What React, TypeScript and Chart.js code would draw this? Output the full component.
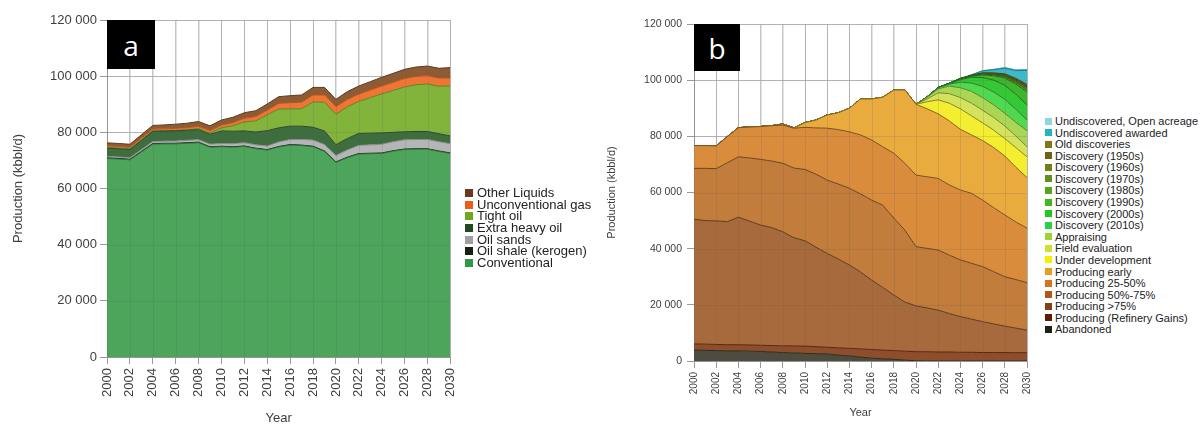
import React, { useEffect, useRef } from 'react';
import { Chart, registerables } from 'chart.js';

Chart.register(...registerables);

// ---------- shared ----------
const years = [2000, 2001, 2002, 2003, 2004, 2005, 2006, 2007, 2008, 2009, 2010, 2011, 2012, 2013, 2014, 2015, 2016, 2017, 2018, 2019, 2020, 2021, 2022, 2023, 2024, 2025, 2026, 2027, 2028, 2029, 2030];
const yTickValues = [0, 20000, 40000, 60000, 80000, 100000, 120000];

// ---------- panel a (bottom -> top) ----------
const conventional = [70700, 70500, 70200, 73000, 75800, 75900, 75900, 76100, 76300, 74700, 74900, 74700, 75000, 74200, 73700, 74800, 75500, 75300, 74900, 73200, 69300, 71000, 72300, 72400, 72500, 73300, 73900, 74000, 74000, 73200, 72500];
const oilShale = [200, 200, 200, 200, 200, 200, 200, 200, 200, 150, 150, 150, 150, 150, 150, 150, 150, 150, 150, 150, 150, 150, 150, 150, 150, 150, 150, 150, 150, 150, 150];
const oilSands = [500, 520, 560, 620, 700, 750, 800, 850, 900, 950, 1000, 1100, 1150, 1200, 1300, 1600, 1800, 2000, 2200, 2300, 2300, 2600, 2900, 3000, 3100, 3200, 3300, 3300, 3300, 3300, 3300];
const extraHeavy = [2950, 2930, 2890, 3230, 3650, 3600, 3650, 3600, 3550, 3500, 4450, 4450, 4200, 4550, 5450, 5050, 4750, 4750, 4550, 4850, 3850, 4050, 4250, 4150, 4050, 3350, 2850, 2850, 2850, 2850, 2750];
const tightOil = [300, 300, 300, 300, 200, 150, 150, 150, 400, 450, 1100, 1950, 3200, 4000, 5600, 6700, 6150, 6200, 9000, 10200, 10850, 11300, 11400, 12650, 13900, 14900, 15950, 16650, 16900, 16900, 17850];
const unconvGas = [500, 500, 500, 550, 600, 650, 700, 750, 800, 850, 1000, 1100, 1300, 1500, 1700, 2000, 2200, 2300, 2500, 2600, 2700, 2600, 2600, 2700, 2800, 2900, 3000, 3000, 3000, 2900, 2800];
const otherLiquids = [1100, 1100, 1100, 1200, 1300, 1400, 1500, 1600, 1700, 1700, 1800, 1900, 2000, 2100, 2200, 2400, 2500, 2600, 2700, 2700, 2600, 2800, 2900, 3000, 3100, 3200, 3300, 3300, 3400, 3500, 3700];

// ---------- panel b (bottom -> top) ----------
const abandoned = [3900, 3800, 3700, 3600, 3600, 3500, 3400, 3200, 3000, 2900, 2700, 2600, 2500, 2100, 1800, 1400, 1000, 800, 600, 300, 100, 50, 0, 0, 0, 0, 0, 0, 0, 0, 0];
const refineryGains = [2200, 2200, 2200, 2200, 2200, 2200, 2200, 2300, 2400, 2500, 2600, 2500, 2400, 2600, 2700, 2900, 3100, 3100, 3100, 3200, 3200, 3250, 3200, 3200, 3100, 3100, 3000, 3000, 3000, 2950, 2950];
const producing75 = [44400, 44000, 44000, 43800, 45400, 44100, 42800, 42000, 40600, 38500, 37500, 35400, 33400, 31600, 29700, 27400, 24700, 22300, 19800, 17500, 16300, 15600, 14900, 13700, 12700, 11800, 11000, 10200, 9400, 8750, 8050];
const producing50 = [18100, 18600, 18600, 21000, 21500, 22500, 23400, 23700, 24400, 24800, 25400, 26000, 26100, 26700, 27300, 27800, 28500, 29300, 27400, 25600, 21100, 21200, 21400, 20800, 20200, 19900, 19600, 18600, 17600, 17300, 16900];
const producing25 = [8100, 8100, 8100, 9300, 10400, 11000, 11700, 12600, 13600, 14200, 15000, 16500, 18500, 19400, 20100, 21000, 21400, 20800, 23100, 23800, 25500, 25500, 25500, 25000, 24900, 24900, 23700, 22800, 22000, 20500, 19400];
const producingEarly = [0, 0, 0, 0, 0, 0, 0, 0, 400, 100, 1700, 2800, 4700, 6000, 8400, 12800, 14600, 17600, 22500, 26100, 25200, 24200, 23000, 22800, 21600, 20800, 21200, 21400, 21000, 19500, 18000];
const underDevelopment = [0, 0, 0, 0, 0, 0, 0, 0, 0, 0, 0, 0, 0, 0, 0, 0, 0, 0, 0, 0, 0, 2500, 5000, 6300, 7300, 6800, 6300, 6200, 6200, 7000, 7400];
const fieldEvaluation = [0, 0, 0, 0, 0, 0, 0, 0, 0, 0, 0, 0, 0, 0, 0, 0, 0, 0, 0, 0, 0, 1000, 2500, 3400, 4000, 4500, 4500, 4500, 4500, 4100, 3600];
const appraising = [0, 0, 0, 0, 0, 0, 0, 0, 0, 0, 0, 0, 0, 0, 0, 0, 0, 0, 0, 0, 0, 600, 1400, 2700, 3500, 4200, 4500, 4500, 4500, 4900, 5700];
const disc2010s = [0, 0, 0, 0, 0, 0, 0, 0, 0, 0, 0, 0, 0, 0, 0, 0, 0, 0, 0, 0, 0, 200, 400, 700, 2000, 3000, 4000, 4600, 5000, 4600, 3800];
const disc2000s = [0, 0, 0, 0, 0, 0, 0, 0, 0, 0, 0, 0, 0, 0, 0, 0, 0, 0, 0, 0, 0, 0, 100, 200, 900, 2000, 3100, 4200, 5000, 5400, 5400];
const disc1990s = [0, 0, 0, 0, 0, 0, 0, 0, 0, 0, 0, 0, 0, 0, 0, 0, 0, 0, 0, 0, 0, 0, 0, 100, 300, 400, 1000, 1600, 2600, 3600, 4600];
const disc1980s = [0, 0, 0, 0, 0, 0, 0, 0, 0, 0, 0, 0, 0, 0, 0, 0, 0, 0, 0, 0, 0, 0, 0, 0, 100, 150, 250, 350, 450, 600, 800];
const disc1970s = [0, 0, 0, 0, 0, 0, 0, 0, 0, 0, 0, 0, 0, 0, 0, 0, 0, 0, 0, 0, 0, 0, 0, 0, 0, 100, 150, 200, 300, 450, 600];
const disc1960s = [0, 0, 0, 0, 0, 0, 0, 0, 0, 0, 0, 0, 0, 0, 0, 0, 0, 0, 0, 0, 0, 0, 0, 0, 0, 50, 100, 150, 250, 350, 450];
const disc1950s = [0, 0, 0, 0, 0, 0, 0, 0, 0, 0, 0, 0, 0, 0, 0, 0, 0, 0, 0, 0, 0, 0, 0, 0, 0, 0, 100, 150, 200, 300, 400];
const oldDiscoveries = [0, 0, 0, 0, 0, 0, 0, 0, 0, 0, 0, 0, 0, 0, 0, 0, 0, 0, 0, 0, 0, 0, 0, 0, 0, 0, 100, 150, 250, 350, 450];
const undiscAwarded = [0, 0, 0, 0, 0, 0, 0, 0, 0, 0, 0, 0, 0, 0, 0, 0, 0, 0, 0, 0, 0, 0, 0, 0, 0, 200, 700, 1100, 2000, 2750, 5000];
const undiscOpen = [0, 0, 0, 0, 0, 0, 0, 0, 0, 0, 0, 0, 0, 0, 0, 0, 0, 0, 0, 0, 0, 0, 0, 0, 0, 0, 100, 200, 250, 300, 300];

type Series = { label: string; data: number[]; fill: string; line: string; key: string };

const seriesA: Series[] = [
  { label: 'Conventional', data: conventional, fill: '#4da45b', line: '#2f6e3a', key: '#2e9a46' },
  { label: 'Oil shale (kerogen)', data: oilShale, fill: '#263826', line: '#1a261a', key: '#142014' },
  { label: 'Oil sands', data: oilSands, fill: '#b5b5b5', line: '#8a8a8a', key: '#a0a0a0' },
  { label: 'Extra heavy oil', data: extraHeavy, fill: '#3e6e3e', line: '#2a4a2a', key: '#1e4a1e' },
  { label: 'Tight oil', data: tightOil, fill: '#82b43c', line: '#5a8428', key: '#6fa81e' },
  { label: 'Unconventional gas', data: unconvGas, fill: '#f07534', line: '#b8521e', key: '#f05a14' },
  { label: 'Other Liquids', data: otherLiquids, fill: '#8e5c34', line: '#5e3a1e', key: '#6b3a1a' },
];

const seriesB: Series[] = [
  { label: 'Abandoned', data: abandoned, fill: '#4d4c3e', line: '#2c2c20', key: '#1c2214' },
  { label: 'Producing (Refinery Gains)', data: refineryGains, fill: '#8e4e2c', line: '#5a2410', key: '#5e1c08' },
  { label: 'Producing >75%', data: producing75, fill: '#a66a3c', line: '#5e3a18', key: '#84401a' },
  { label: 'Producing 50%-75%', data: producing50, fill: '#c27c3c', line: '#6e4418', key: '#b0561a' },
  { label: 'Producing 25-50%', data: producing25, fill: '#d98c3c', line: '#7a5020', key: '#d8721c' },
  { label: 'Producing early', data: producingEarly, fill: '#e9aa3e', line: '#8a6420', key: '#e89e1e' },
  { label: 'Under development', data: underDevelopment, fill: '#f4ee30', line: '#8a8420', key: '#f5f000' },
  { label: 'Field evaluation', data: fieldEvaluation, fill: '#d5e25c', line: '#7a8430', key: '#cde036' },
  { label: 'Appraising', data: appraising, fill: '#aad656', line: '#5a8428', key: '#9cd432' },
  { label: 'Discovery (2010s)', data: disc2010s, fill: '#50d850', line: '#2a7a2a', key: '#22d444' },
  { label: 'Discovery (2000s)', data: disc2000s, fill: '#34c934', line: '#1e6e1e', key: '#1ec81e' },
  { label: 'Discovery (1990s)', data: disc1990s, fill: '#3fb52e', line: '#1e6418', key: '#3cba1e' },
  { label: 'Discovery (1980s)', data: disc1980s, fill: '#55a526', line: '#2e5a14', key: '#56a61e' },
  { label: 'Discovery (1970s)', data: disc1970s, fill: '#66982a', line: '#3a5418', key: '#62901c' },
  { label: 'Discovery (1960s)', data: disc1960s, fill: '#788a22', line: '#444e14', key: '#73801a' },
  { label: 'Discovery (1950s)', data: disc1950s, fill: '#726a1c', line: '#403a10', key: '#6e6410' },
  { label: 'Old discoveries', data: oldDiscoveries, fill: '#8a7a26', line: '#4e4414', key: '#857515' },
  { label: 'Undiscovered awarded', data: undiscAwarded, fill: '#3bbacb', line: '#1e7a88', key: '#22b4c4' },
  { label: 'Undiscovered, Open acreage', data: undiscOpen, fill: '#93d8e0', line: '#5aa8b0', key: '#8fd6de' },
];

const FONT = '"Liberation Sans", Arial, sans-serif';
const TEXT = '#404040';

function fmtThousands(v: number) {
  return String(v).replace(/\B(?=(\d{3})+(?!\d))/g, ' ');
}

const gridOverlay = {
  id: 'gridOverlay',
  afterDatasetsDraw(chart: any) {
    const { ctx, chartArea, scales } = chart;
    ctx.save();
    ctx.strokeStyle = 'rgba(90,90,90,0.16)';
    ctx.lineWidth = 1;
    ctx.beginPath();
    scales.x.ticks.forEach((t: any) => {
      const x = Math.round(scales.x.getPixelForValue(t.value)) + 0.5;
      ctx.moveTo(x, chartArea.top);
      ctx.lineTo(x, chartArea.bottom);
    });
    scales.y.ticks.forEach((t: any) => {
      const y = Math.round(scales.y.getPixelForValue(t.value)) + 0.5;
      ctx.moveTo(chartArea.left, y);
      ctx.lineTo(chartArea.right, y);
    });
    ctx.stroke();
    ctx.restore();
  },
};

type Cfg = {
  left: number;
  width: number;
  series: Series[];
  padTop: number;
  padRight: number;
  yWidth: number;
  xHeight: number;
  yTickFont: number;
  xTickFont: number;
  titleFont: number;
  yTitlePad: number;
  xTitlePad: number;
  yTickPad: number;
  xTickPad: number;
};

function StackChart(p: Cfg) {
  const ref = useRef<HTMLCanvasElement>(null);
  useEffect(() => {
    const datasets = p.series.map((s, i) => ({
      label: s.label,
      data: s.data.map((v, j) => ({ x: years[j], y: v })),
      backgroundColor: s.fill,
      borderColor: s.line,
      borderWidth: 1,
      fill: i === 0 ? 'origin' : '-1',
      pointRadius: 0,
      tension: 0,
    }));
    const chart = new Chart(ref.current as HTMLCanvasElement, {
      type: 'line',
      data: { datasets },
      plugins: [gridOverlay],
      options: {
        animation: false,
        responsive: false,
        maintainAspectRatio: false,
        devicePixelRatio: 1,
        layout: { padding: { top: p.padTop, right: p.padRight, left: 0, bottom: 0 } },
        plugins: { legend: { display: false }, tooltip: { enabled: false } },
        elements: { line: { borderJoinStyle: 'round' } },
        scales: {
          x: {
            type: 'linear',
            min: 2000,
            max: 2030,
            ticks: {
              stepSize: 2,
              autoSkip: false,
              maxRotation: 90,
              minRotation: 90,
              padding: p.xTickPad,
              color: TEXT,
              font: { family: FONT, size: p.xTickFont },
              callback: (v: any) => String(v),
            },
            grid: { color: '#c4c4c4', tickLength: 7, tickColor: '#9a9a9a' },
            border: { color: '#a0a0a0' },
            title: {
              display: true,
              text: 'Year',
              color: TEXT,
              font: { family: FONT, size: p.titleFont },
              padding: { top: 0, bottom: p.xTitlePad },
            },
            afterFit: (s: any) => {
              s.height = p.xHeight;
            },
          },
          y: {
            stacked: true,
            min: 0,
            max: 120000,
            afterBuildTicks: (s: any) => {
              s.ticks = yTickValues.map((v) => ({ value: v }));
            },
            ticks: {
              padding: p.yTickPad,
              color: TEXT,
              font: { family: FONT, size: p.yTickFont },
              callback: (v: any) => fmtThousands(Number(v)),
            },
            grid: { color: '#c4c4c4', tickLength: 7, tickColor: '#9a9a9a' },
            border: { color: '#a0a0a0' },
            title: {
              display: true,
              text: 'Production (kbbl/d)',
              color: TEXT,
              font: { family: FONT, size: p.titleFont },
              padding: { top: p.yTitlePad, bottom: 0 },
            },
            afterFit: (s: any) => {
              s.width = p.yWidth;
            },
          },
        },
      } as any,
    });
    return () => chart.destroy();
  }, []);
  return (
    <canvas
      ref={ref}
      width={p.width}
      height={426}
      style={{ position: 'absolute', left: p.left, top: 0, width: p.width, height: 426 }}
    />
  );
}

function Legend(props: { items: Series[]; left: number; top: number; step: number; size: number; box: number; gap: number }) {
  return (
    <>
      {props.items.map((s, i) => (
        <div
          key={s.label}
          style={{
            position: 'absolute',
            left: props.left,
            top: props.top + i * props.step - 7,
            height: 14,
            display: 'flex',
            alignItems: 'center',
            whiteSpace: 'nowrap',
            fontFamily: FONT,
            fontSize: props.size,
            color: '#222',
            lineHeight: '14px',
          }}
        >
          <span style={{ display: 'inline-block', width: props.box, height: props.box, background: s.key, marginRight: props.gap }} />
          {s.label}
        </div>
      ))}
    </>
  );
}

function PanelTag(props: { text: string; left: number; top: number; w: number; h: number }) {
  return (
    <div
      style={{
        position: 'absolute',
        left: props.left,
        top: props.top,
        width: props.w,
        height: props.h,
        background: '#000',
        color: '#fff',
        fontFamily: '"Open Sans", "DejaVu Sans", sans-serif',
        fontSize: 28,
        display: 'flex',
        alignItems: 'center',
        justifyContent: 'center',
        lineHeight: '1',
      }}
    >
      {props.text}
    </div>
  );
}

export default function App() {
  const legendA = [...seriesA].reverse();
  const legendB = [...seriesB].reverse();
  return (
    <div style={{ position: 'absolute', left: 0, top: 0, width: 1203, height: 426, background: '#fff', overflow: 'hidden' }}>
      <StackChart
        left={0}
        width={470}
        series={seriesA}
        padTop={20}
        padRight={10}
        yWidth={107}
        xHeight={69}
        yTickFont={13}
        xTickFont={13}
        titleFont={13}
        yTitlePad={11}
        xTitlePad={0}
        yTickPad={3}
        xTickPad={4}
      />
      <StackChart
        left={600}
        width={443}
        series={seriesB}
        padTop={24}
        padRight={10}
        yWidth={94}
        xHeight={65}
        yTickFont={10.5}
        xTickFont={10}
        titleFont={11}
        yTitlePad={5}
        xTitlePad={6}
        yTickPad={5}
        xTickPad={4}
      />
      <PanelTag text="a" left={107} top={20} w={48} h={49} />
      <PanelTag text="b" left={694} top={24} w={46} h={47} />
      <Legend items={legendA} left={465} top={193} step={11.67} size={13} box={8} gap={4} />
      <Legend items={legendB} left={1045} top={121} step={11.58} size={11} box={7} gap={3} />
    </div>
  );
}
